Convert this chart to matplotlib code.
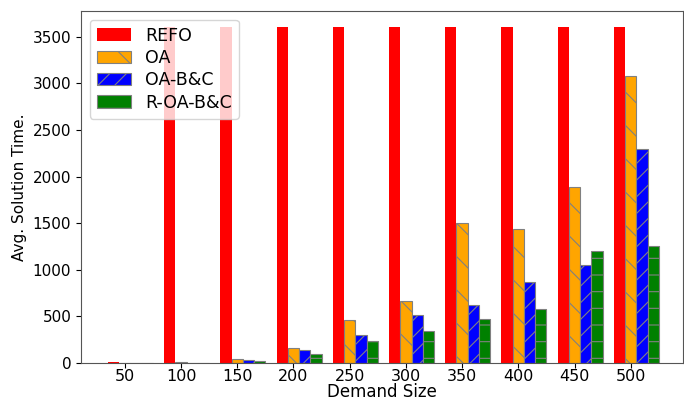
import matplotlib
matplotlib.use("Agg")
import matplotlib.pyplot as plt
import numpy as np

demand = ["50", "100", "150", "200", "250", "300", "350", "400", "450", "500"]
refo = [15, 3600, 3600, 3600, 3600, 3600, 3600, 3600, 3600, 3600]
oa = [2, 6, 40, 160, 460, 660, 1500, 1440, 1890, 3080]
oa_bc = [1, 5, 35, 140, 305, 510, 620, 870, 1050, 2290]
r_oa_bc = [1, 3, 20, 95, 235, 340, 475, 580, 1200, 1250]

plt.rcParams['hatch.color'] = 'gray'
plt.rcParams['hatch.linewidth'] = 0.8

fig = plt.figure(figsize=(6.84, 4.0), dpi=100)
ax = fig.add_axes([81/684, 1-363/400, (683-81)/684, (363-11)/400])

x = np.arange(len(demand))
w = 0.2
ax.bar(x - w, refo, w, color='red', label='REFO')
ax.bar(x, oa, w, color='orange', edgecolor='gray', hatch='\\', linewidth=0.8, label='OA')
ax.bar(x + w, oa_bc, w, color='blue', edgecolor='gray', hatch='//', linewidth=0.8, label='OA-B&C')
ax.bar(x + 2*w, r_oa_bc, w, color='green', edgecolor='gray', hatch='-', linewidth=0.8, label='R-OA-B&C')

ax.set_xticks(x)
ax.set_xticklabels(demand, fontsize=11.5)
ax.set_yticks(np.arange(0, 3501, 500))
ax.tick_params(axis='y', labelsize=11)
ax.tick_params(axis='x', pad=1)
ax.set_xlim(-0.78, 9.93)
ax.set_ylim(0, 3775)
ax.set_xlabel('Demand Size', fontsize=12)
ax.xaxis.set_label_coords(0.5, -0.056)
ax.set_ylabel('Avg. Solution Time.', fontsize=11)
ax.yaxis.set_label_coords(-0.09, 0.5)
for s in ax.spines.values():
    s.set_color('#555555')
ax.legend(loc='upper left', fontsize=12.5, framealpha=0.8, labelspacing=0.25,
          borderaxespad=0.5)

fig.savefig('out.png', dpi=100)
